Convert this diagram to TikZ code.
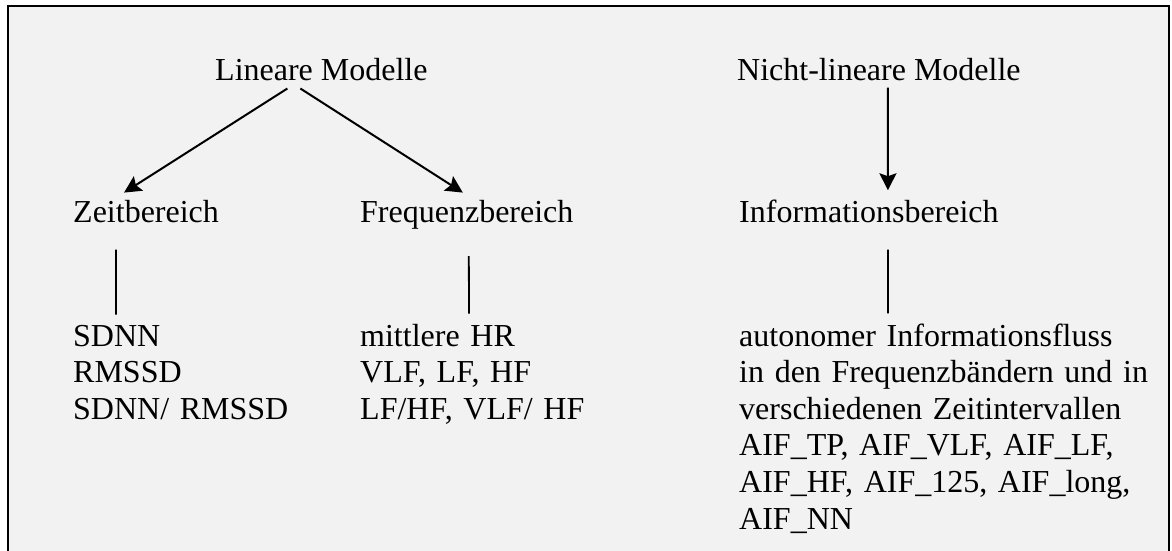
\documentclass[tikz,border=0pt]{standalone}
\usepackage{fontspec}
\setmainfont{Liberation Serif}
\usetikzlibrary{arrows.meta}
\definecolor{hinter}{gray}{0.949}

\tikzset{
  lbl/.style={inner sep=0pt, anchor=base west, font=\fontsize{32}{36.6}\selectfont},
  liste/.style={lbl, text width=#1, align=left},
  pfeil/.style={line width=2pt, -{Stealth[length=17pt,width=17pt,inset=3pt]}},
  strich/.style={line width=1.8pt}
}

\begin{document}
\begin{tikzpicture}[x=1pt,y=-1pt]
  \useasboundingbox (0,0) rectangle (1172,551);
  \fill[hinter] (8,6) rectangle (1169,551);
  \draw[line width=2.5pt] (8,551) -- (8,6) -- (1169,6) -- (1169,551);

  \node[lbl] (lin) at (215,81) {Lineare Modelle};
  \node[lbl] (nlin) at (737,81) {Nicht-lineare Modelle};

  \node[lbl] (zeit) at (73,222) {Zeitbereich};
  \node[lbl] (freq) at (360,222) {Frequenzbereich};
  \node[lbl] (info) at (739,222) {Informationsbereich};

  \node[liste=240pt] (zliste) at (73,346) {SDNN\\RMSSD\\SDNN/ RMSSD};
  \node[liste=300pt] (fliste) at (360,346) {mittlere HR\\VLF, LF, HF\\LF/HF, VLF/ HF};
  \node[liste=415pt] (iliste) at (739,346) {autonomer Informationsfluss\\
    \makebox[\linewidth][s]{in den Frequenzbändern und in}\\
    verschiedenen Zeitintervallen\\
    AIF\_TP, AIF\_VLF, AIF\_LF,\\
    AIF\_HF, AIF\_125, AIF\_long,\\
    AIF\_NN};

  \draw[pfeil] ([shift={(-34,7)}]lin.south) -- ([shift={(-22,-7)}]zeit.north);
  \draw[pfeil] ([shift={(-21,7)}]lin.south) -- ([shift={(-4,-7)}]freq.north);
  \draw[pfeil] ([shift={(9,6)}]nlin.south) -- ([shift={(19,-9)}]info.north);

  \draw[strich] ([shift={(-30,27)}]zeit.south) -- ([shift={(43,-10)}]zliste.north west);
  \draw[strich] ([shift={(2,27)}]freq.south) -- ([shift={(109,-10)}]fliste.north west);
  \draw[strich] ([shift={(19,27)}]info.south) -- ([shift={(149,-10)}]iliste.north west);
\end{tikzpicture}
\end{document}
